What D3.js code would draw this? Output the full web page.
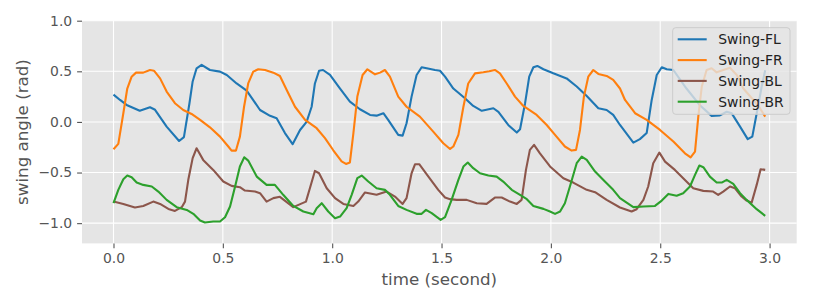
<!DOCTYPE html>
<html lang="en">
<head>
    <meta charset="UTF-8">
    <title>Swing angles</title>
    <script src="https://d3js.org/d3.v7.min.js"></script>
    <style>
        body {
            margin: 0;
            background-color: #ffffff;
            font-family: "DejaVu Sans", sans-serif;
        }
        .tick-label { fill: #555555; font-size: 13.9px; }
        .axis-label { fill: #555555; font-size: 16.7px; }
        .legend-label { fill: #222222; font-size: 13.9px; }
    </style>
</head>
<body>
    <svg id="chart" width="814" height="305"></svg>
    <script>
        // [time (s), swing angle (rad)]
        const swingFL = [[0,0.27],[0.03,0.217],[0.06,0.168],[0.12,0.11],[0.167,0.145],[0.19,0.12],[0.243,-0.046],[0.30,-0.188],[0.322,-0.15],[0.347,0.18],[0.362,0.40],[0.38,0.53],[0.403,0.563],[0.441,0.513],[0.487,0.497],[0.518,0.464],[0.563,0.38],[0.609,0.31],[0.67,0.118],[0.716,0.06],[0.746,0.036],[0.784,-0.11],[0.819,-0.22],[0.853,-0.08],[0.883,0.0],[0.906,0.15],[0.921,0.38],[0.94,0.506],[0.958,0.513],[0.99,0.464],[1.036,0.33],[1.081,0.2],[1.127,0.125],[1.173,0.069],[1.203,0.062],[1.234,0.086],[1.256,0.02],[1.302,-0.128],[1.322,-0.135],[1.34,-0.013],[1.363,0.25],[1.386,0.464],[1.409,0.54],[1.432,0.53],[1.47,0.513],[1.493,0.506],[1.516,0.447],[1.554,0.33],[1.607,0.234],[1.645,0.158],[1.684,0.11],[1.737,0.135],[1.76,0.10],[1.805,-0.03],[1.844,-0.105],[1.859,-0.072],[1.882,0.185],[1.901,0.447],[1.92,0.54],[1.938,0.553],[1.966,0.52],[2.011,0.48],[2.072,0.43],[2.118,0.35],[2.164,0.257],[2.217,0.135],[2.255,0.118],[2.285,0.069],[2.316,-0.03],[2.377,-0.204],[2.407,-0.17],[2.438,-0.11],[2.461,0.217],[2.484,0.464],[2.507,0.54],[2.53,0.52],[2.56,0.513],[2.62,0.33],[2.68,0.168],[2.735,0.06],[2.773,0.065],[2.804,0.10],[2.827,0.085],[2.865,-0.046],[2.9,-0.17],[2.921,-0.145],[2.944,0.118],[2.964,0.35],[2.98,0.51]];
        const swingFR = [[0,-0.27],[0.022,-0.217],[0.045,0.086],[0.063,0.33],[0.083,0.447],[0.103,0.487],[0.136,0.487],[0.167,0.513],[0.185,0.506],[0.213,0.43],[0.243,0.30],[0.281,0.185],[0.319,0.118],[0.357,0.079],[0.396,0.02],[0.441,-0.053],[0.487,-0.145],[0.525,-0.243],[0.54,-0.283],[0.56,-0.283],[0.578,-0.145],[0.597,0.15],[0.616,0.38],[0.639,0.497],[0.662,0.52],[0.693,0.513],[0.731,0.487],[0.761,0.454],[0.792,0.316],[0.83,0.15],[0.876,0.02],[0.929,-0.062],[0.967,-0.16],[1.005,-0.28],[1.043,-0.39],[1.063,-0.415],[1.081,-0.40],[1.097,-0.11],[1.115,0.25],[1.139,0.464],[1.161,0.52],[1.196,0.47],[1.219,0.487],[1.241,0.513],[1.264,0.447],[1.302,0.25],[1.34,0.15],[1.401,0.052],[1.462,-0.096],[1.508,-0.21],[1.539,-0.267],[1.554,-0.243],[1.577,-0.128],[1.60,0.15],[1.622,0.38],[1.653,0.48],[1.691,0.49],[1.718,0.50],[1.744,0.513],[1.767,0.48],[1.798,0.38],[1.836,0.25],[1.874,0.158],[1.935,0.069],[1.981,-0.03],[2.019,-0.128],[2.064,-0.243],[2.095,-0.283],[2.115,-0.276],[2.133,-0.079],[2.151,0.25],[2.171,0.447],[2.194,0.513],[2.217,0.474],[2.255,0.454],[2.285,0.415],[2.316,0.33],[2.339,0.217],[2.385,0.086],[2.438,0.02],[2.499,-0.079],[2.56,-0.194],[2.613,-0.31],[2.639,-0.35],[2.659,-0.293],[2.674,0.052],[2.69,0.35],[2.712,0.513],[2.735,0.53],[2.758,0.49],[2.788,0.513],[2.819,0.535],[2.85,0.464],[2.88,0.33],[2.926,0.217],[2.956,0.135],[2.98,0.052]];
        const swingBL = [[0,-0.787],[0.045,-0.81],[0.098,-0.846],[0.136,-0.83],[0.182,-0.787],[0.213,-0.81],[0.251,-0.859],[0.281,-0.879],[0.312,-0.842],[0.327,-0.787],[0.342,-0.572],[0.362,-0.358],[0.38,-0.26],[0.41,-0.375],[0.456,-0.474],[0.502,-0.589],[0.54,-0.632],[0.578,-0.645],[0.601,-0.678],[0.647,-0.688],[0.67,-0.704],[0.70,-0.787],[0.731,-0.753],[0.761,-0.74],[0.822,-0.842],[0.88,-0.787],[0.898,-0.655],[0.921,-0.484],[0.94,-0.507],[0.975,-0.655],[1.013,-0.753],[1.051,-0.81],[1.097,-0.83],[1.119,-0.787],[1.15,-0.697],[1.203,-0.72],[1.249,-0.688],[1.287,-0.737],[1.322,-0.81],[1.34,-0.753],[1.363,-0.507],[1.379,-0.418],[1.398,-0.418],[1.44,-0.54],[1.485,-0.671],[1.516,-0.747],[1.539,-0.763],[1.569,-0.77],[1.615,-0.77],[1.661,-0.803],[1.706,-0.81],[1.744,-0.747],[1.775,-0.747],[1.813,-0.787],[1.844,-0.81],[1.866,-0.77],[1.886,-0.474],[1.904,-0.276],[1.923,-0.227],[1.95,-0.31],[1.996,-0.44],[2.057,-0.556],[2.102,-0.599],[2.164,-0.671],[2.202,-0.694],[2.255,-0.77],[2.316,-0.845],[2.369,-0.885],[2.392,-0.862],[2.423,-0.77],[2.445,-0.638],[2.468,-0.408],[2.496,-0.303],[2.522,-0.392],[2.567,-0.474],[2.605,-0.556],[2.651,-0.655],[2.697,-0.681],[2.742,-0.688],[2.765,-0.72],[2.788,-0.688],[2.819,-0.638],[2.842,-0.655],[2.872,-0.737],[2.895,-0.777],[2.918,-0.797],[2.941,-0.622],[2.959,-0.467],[2.98,-0.474]];
        const swingBR = [[0,-0.803],[0.022,-0.671],[0.045,-0.566],[0.063,-0.53],[0.083,-0.546],[0.106,-0.599],[0.136,-0.622],[0.175,-0.638],[0.205,-0.688],[0.243,-0.77],[0.289,-0.842],[0.335,-0.869],[0.365,-0.908],[0.396,-0.974],[0.418,-0.994],[0.456,-0.984],[0.487,-0.984],[0.51,-0.941],[0.533,-0.836],[0.556,-0.638],[0.578,-0.441],[0.598,-0.349],[0.616,-0.382],[0.655,-0.54],[0.70,-0.622],[0.738,-0.622],[0.776,-0.72],[0.822,-0.83],[0.868,-0.885],[0.914,-0.911],[0.929,-0.852],[0.952,-0.803],[0.982,-0.885],[1.013,-0.951],[1.036,-0.935],[1.066,-0.852],[1.089,-0.72],[1.115,-0.556],[1.135,-0.53],[1.165,-0.589],[1.203,-0.655],[1.241,-0.671],[1.264,-0.72],[1.302,-0.83],[1.34,-0.869],[1.386,-0.908],[1.409,-0.908],[1.429,-0.869],[1.455,-0.901],[1.496,-0.967],[1.516,-0.941],[1.546,-0.77],[1.577,-0.572],[1.60,-0.441],[1.62,-0.401],[1.645,-0.457],[1.676,-0.507],[1.714,-0.53],[1.752,-0.54],[1.782,-0.589],[1.821,-0.671],[1.859,-0.72],[1.89,-0.763],[1.92,-0.83],[1.966,-0.859],[1.996,-0.885],[2.019,-0.908],[2.042,-0.885],[2.064,-0.803],[2.087,-0.638],[2.118,-0.408],[2.141,-0.342],[2.164,-0.375],[2.202,-0.49],[2.247,-0.589],[2.285,-0.671],[2.316,-0.753],[2.377,-0.842],[2.423,-0.836],[2.476,-0.83],[2.507,-0.777],[2.537,-0.711],[2.575,-0.73],[2.605,-0.704],[2.636,-0.638],[2.659,-0.523],[2.679,-0.431],[2.697,-0.447],[2.727,-0.54],[2.758,-0.599],[2.781,-0.599],[2.804,-0.572],[2.834,-0.612],[2.865,-0.704],[2.895,-0.77],[2.941,-0.862],[2.98,-0.928]];

        const seriesNames = ['Swing-FL', 'Swing-FR', 'Swing-BL', 'Swing-BR'];
        const seriesData = [swingFL, swingFR, swingBL, swingBR];
        const seriesColors = ['#1f77b4', '#ff7f0e', '#8c564b', '#2ca02c'];
        const xTicks = [0, 0.5, 1.0, 1.5, 2.0, 2.5, 3.0];
        const yTicks = [-1.0, -0.5, 0.0, 0.5, 1.0];

        const plotLeft = 82, plotRight = 796.7, plotTop = 20.7, plotBottom = 243.4;
        const svg = d3.select('#chart');

        const xScale = d3.scaleLinear().domain([-0.144, 3.124]).range([plotLeft, plotRight]);
        const yScale = d3.scaleLinear().domain([-1.2, 1.0]).range([plotBottom, plotTop]);
        const fmt = v => d3.format('.1f')(v).replace('-', '\u2212');

        // background + grid
        svg.append('rect')
           .attr('x', plotLeft).attr('y', plotTop)
           .attr('width', plotRight - plotLeft).attr('height', plotBottom - plotTop)
           .attr('fill', '#e5e5e5');
        svg.append('g').selectAll('line').data(xTicks).join('line')
           .attr('x1', d => xScale(d)).attr('x2', d => xScale(d))
           .attr('y1', plotTop).attr('y2', plotBottom)
           .attr('stroke', '#ffffff').attr('stroke-width', 1.1);
        svg.append('g').selectAll('line').data(yTicks).join('line')
           .attr('x1', plotLeft).attr('x2', plotRight)
           .attr('y1', d => yScale(d)).attr('y2', d => yScale(d))
           .attr('stroke', '#ffffff').attr('stroke-width', 1.1);

        // axes
        const xAxis = svg.append('g')
           .attr('transform', `translate(0,${plotBottom})`)
           .call(d3.axisBottom(xScale).tickValues(xTicks).tickFormat(fmt).tickSize(4.9).tickPadding(4.9));
        const yAxis = svg.append('g')
           .attr('transform', `translate(${plotLeft},0)`)
           .call(d3.axisLeft(yScale).tickValues(yTicks).tickFormat(fmt).tickSize(4.9).tickPadding(4.9));
        [xAxis, yAxis].forEach(a => {
            a.attr('font-size', null).attr('font-family', null);
            a.select('.domain').remove();
            a.selectAll('.tick line').attr('stroke', '#555555').attr('stroke-width', 1.1);
            a.selectAll('.tick text').attr('class', 'tick-label').attr('fill', null);
        });

        // lines
        const line = d3.line()
                       .x(d => xScale(d[0]))
                       .y(d => yScale(d[1]));
        seriesData.forEach((data, i) => {
            svg.append('path')
               .datum(data)
               .attr('fill', 'none')
               .attr('stroke', seriesColors[i])
               .attr('stroke-width', 2.1)
               .attr('stroke-linejoin', 'round')
               .attr('d', line);
        });

        // axis labels
        svg.append('text')
           .attr('class', 'axis-label')
           .attr('x', (plotLeft + plotRight) / 2).attr('y', 284.5)
           .attr('text-anchor', 'middle')
           .text('time (second)');
        svg.append('text')
           .attr('class', 'axis-label')
           .attr('transform', `translate(28,${(plotTop + plotBottom) / 2}) rotate(-90)`)
           .attr('text-anchor', 'middle')
           .text('swing angle (rad)');

        // legend
        const legend = svg.append('g');
        legend.append('rect')
              .attr('x', 672.7).attr('y', 27.7)
              .attr('width', 117.3).attr('height', 86.6)
              .attr('rx', 3).attr('ry', 3)
              .attr('fill', 'rgba(229,229,229,0.8)')
              .attr('stroke', '#cccccc').attr('stroke-width', 1);
        seriesNames.forEach((name, i) => {
            const y = 39.3 + i * 20.8;
            legend.append('line')
                  .attr('x1', 677.7).attr('x2', 706.7)
                  .attr('y1', y).attr('y2', y)
                  .attr('stroke', seriesColors[i]).attr('stroke-width', 2.1);
            legend.append('text')
                  .attr('class', 'legend-label')
                  .attr('x', 718.3).attr('y', y + 5)
                  .text(name);
        });
    </script>
</body>
</html>
